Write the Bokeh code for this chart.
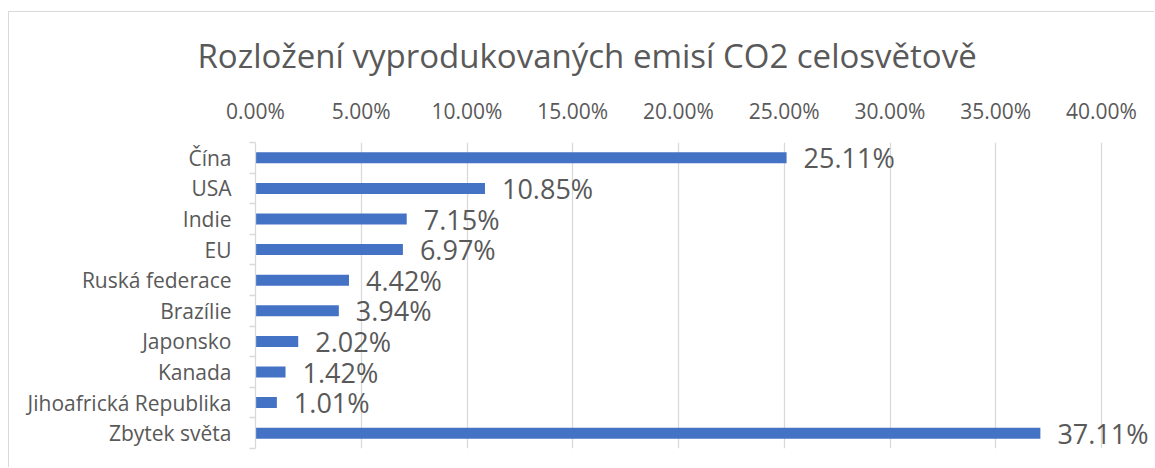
from bokeh.plotting import figure
from bokeh.models import ColumnDataSource, FixedTicker, Range1d, LabelSet, Title
from bokeh.core.properties import value
from bokeh.embed import file_html
from bokeh.resources import INLINE

categories = ["Čína", "USA", "Indie", "EU", "Ruská federace", "Brazílie",
              "Japonsko", "Kanada", "Jihoafrická Republika", "Zbytek světa"]
values = [25.11, 10.85, 7.15, 6.97, 4.42, 3.94, 2.02, 1.42, 1.01, 37.11]
x_ticks = [0, 5, 10, 15, 20, 25, 30, 35, 40]
x_tick_labels = [f"{t:.2f}%" for t in x_ticks]
title_text = "Rozložení vyprodukovaných emisí CO2 celosvětově"

FONT = "Open Sans"
TXT = "#595959"
GRID = "#d9d9d9"
BAR = "#4472C4"

W, H = 1146, 456
LEFT, TOP, BOTTOM = 246, 130, 20
AXIS_PX = 846  # pixels spanned by 0..40 %
x_end = 40 * (W - LEFT) / AXIS_PX

n = len(categories)
idx = list(range(n))
src = ColumnDataSource(dict(idx=idx, val=values, lab=[f"{v:.2f}%" for v in values]))

p = figure(width=W, height=H, output_backend="svg", toolbar_location=None,
           x_range=Range1d(0, x_end), y_range=Range1d(n - 0.5, -0.5),
           x_axis_location="above",
           min_border_left=LEFT, min_border_right=0, min_border_top=TOP,
           min_border_bottom=BOTTOM)
p.margin = (11, 0, 0, 8)
p.styles = {"border-top": "1px solid #d9d9d9", "border-left": "1px solid #d9d9d9"}
p.outline_line_color = None
p.background_fill_color = "white"

p.hbar(y="idx", left=0, right="val", height=0.36, source=src,
       fill_color=BAR, line_color=None)

labels = LabelSet(x="val", y="idx", text="lab", source=src, x_offset=17,
                  text_baseline="middle", text_align="left",
                  text_font=value(FONT), text_font_size="27px", text_color=TXT)
p.add_layout(labels)

# x axis (top)
xa = p.xaxis[0]
xa.ticker = FixedTicker(ticks=x_ticks)
xa.major_label_overrides = {t: l for t, l in zip(x_ticks, x_tick_labels)}
xa.axis_line_color = None
xa.major_tick_line_color = None
xa.minor_tick_line_color = None
xa.major_label_text_font = FONT
xa.major_label_text_font_size = "21px"
xa.major_label_text_color = TXT
xa.major_label_standoff = 12

p.xgrid.ticker = FixedTicker(ticks=x_ticks)
p.xgrid.grid_line_color = GRID
p.xgrid.grid_line_width = 1.3
p.ygrid.visible = False

# y axis (left)
ya = p.yaxis[0]
ya.ticker = FixedTicker(ticks=idx, minor_ticks=[i - 0.5 for i in range(n + 1)])
ya.major_label_overrides = {i: c for i, c in zip(idx, categories)}
ya.axis_line_color = GRID
ya.axis_line_width = 1.3
ya.major_tick_line_color = None
ya.major_tick_out = 0
ya.major_tick_in = 0
ya.minor_tick_line_color = GRID
ya.minor_tick_line_width = 1.3
ya.minor_tick_out = 6
ya.minor_tick_in = 0
ya.major_label_text_font = FONT
ya.major_label_text_font_size = "21px"
ya.major_label_text_color = TXT
ya.major_label_standoff = 18

p.add_layout(Title(text=title_text, align="left", offset=-58, standoff=31,
                   text_font=FONT, text_font_size="33px", text_color=TXT,
                   text_font_style="normal"), "above")

open("out.html", "w").write(file_html(p, INLINE))
